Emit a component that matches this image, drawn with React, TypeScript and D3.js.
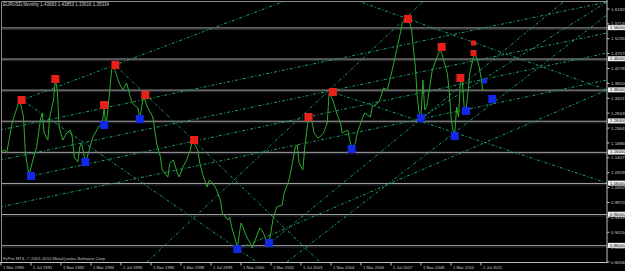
import React from "react";
import * as d3 from "d3";

// month offsets from 1 Mar 1990 and monthly closes
const monthIdx = [0,2,3,5,6,9,10,12,13,14,15,17,19,21,22,23,25,26,28,29,30,31,33,35,37,38,39,41,42,43,45,46,49,52,54,55,56,57,59,60,62,63,65,67,69,70,73,74,75,76,78,81,82,83,85,86,89,90,92,94,95,97,99,101,102,105,106,108,110,111,113,115,117,118,121,122,123,125,126,128,129,131,133,134,137,138,140,142,143,145,147,150,151,153,154,155,157,158,159,161,162,164,166,167,169,170,172,174,175,177,179,181,182,185,186,187,189,190,193,194,197,198,201,202,204,206,207,209,211,213,214,216,218,219,220,221,222,223,224,225,226,227,229,230,232,234,235,238,239,240,241,242,243,244,245,246,247,248,249,250,252,253,254,255,256,257];
const closes = [1.1595,1.1659,1.1563,1.2206,1.2559,1.3106,1.3267,1.2720,1.1563,1.1177,1.0856,1.1338,1.1756,1.2624,1.2849,1.2206,1.1981,1.2720,1.3267,1.3910,1.3589,1.2399,1.1981,1.2206,1.2302,1.2077,1.1434,1.1273,1.1756,1.1884,1.1273,1.1434,1.2077,1.2399,1.2527,1.3010,1.2399,1.2945,1.4231,1.4360,1.4006,1.3813,1.3589,1.3813,1.3363,1.3170,1.3010,1.2656,1.3042,1.3395,1.3042,1.2720,1.2302,1.1884,1.1434,1.1016,1.0791,1.1241,1.1338,1.0920,1.0791,1.1112,1.1338,1.1659,1.1981,1.1659,1.1241,1.0791,1.0470,1.0695,1.0598,1.0373,1.0052,0.9634,0.9409,0.9505,0.9184,0.8766,0.8508,0.9312,0.9184,0.8862,0.8669,0.8508,0.8991,0.9152,0.8991,0.8669,0.8669,0.9409,0.9827,0.9891,1.0277,1.0598,1.0791,1.1112,1.1756,1.1820,1.1241,1.1016,1.1756,1.2720,1.2527,1.2206,1.2045,1.2077,1.2206,1.2527,1.3492,1.3267,1.2849,1.2527,1.2206,1.2302,1.1981,1.1724,1.1884,1.2206,1.2720,1.2849,1.2720,1.3042,1.3170,1.3267,1.3653,1.3589,1.3813,1.4328,1.4874,1.5421,1.5743,1.5839,1.5743,1.5517,1.4874,1.4328,1.3363,1.2849,1.2720,1.3910,1.2945,1.3042,1.3813,1.4231,1.4553,1.4874,1.4778,1.4135,1.3589,1.2720,1.2302,1.2206,1.3042,1.2720,1.3813,1.3910,1.3042,1.2945,1.3492,1.4135,1.4649,1.4714,1.4553,1.4328,1.4006,1.3556];

// marker squares (month offset, price, size)
const redM = [11,29,55,61,77,103,164,177,217,235,245,252,252];
const redP = [1.3267,1.3942,1.3106,1.4392,1.3428,1.1981,1.2720,1.3524,1.5871,1.4971,1.3974,1.4778,1.5099];
const redS = [8,8,8,8,8,8,8,8,8,8,8,6,5];
const blueM = [16,45,55,74,126,143,187,224,242,248,258,262];
const blueP = [1.0823,1.1273,1.2463,1.2656,0.8476,0.8669,1.1692,1.2688,1.2109,1.2913,1.3877,1.3299];
const blueS = [8,8,8,8,8,8,8,8,8,8,5,8];

// trend lines: anchor A (month, price) -> anchor B, extended to the right
const tlM1 = [11.2, 60.8, 11.2, 188.8, 176.5, 143.5, 152.5, 77.9, -0.53, -0.53, 16, -0.53, 126.4, 224];
const tlP1 = [1.3267, 1.4392, 1.3267, 1.6482, 1.3524, 0.8669, 0.8058, 0.8058, 1.2302, 1.1337, 1.0823, 0.9826, 0.8476, 1.2688];
const tlM2 = [60.8, 170.1, 126.4, 323.2, 323.2, 218.1, 218.1, 180.8, 323.2, 323.2, 323.2, 323.2, 323.2, 323.2];
const tlP2 = [1.4392, 0.8058, 0.8476, 1.3588, 1.0598, 1.2366, 1.1112, 1.391, 1.6418, 1.5421, 1.4778, 1.391, 1.3588, 1.6418];

// horizontal levels
const levels = [1.56,1.46,1.36,1.26,1.16,1.06,0.96,0.86];
// price axis
const priceTop = 1.61925;
const priceStep = 0.04785;
const priceTickCount = 18;
const priceTicks = d3.range(priceTickCount).map((i) => priceTop - i * priceStep);
// time axis labels every 16 months
const dateLabels = ["1 Mar 1990","1 Jul 1991","1 Nov 1992","1 Mar 1994","1 Jul 1995","1 Nov 1996","1 Mar 1998","1 Jul 1999","1 Nov 2000","1 Mar 2002","1 Jul 2003","1 Nov 2004","1 Mar 2006","1 Jul 2007","1 Nov 2008","1 Mar 2010","1 Jul 2011"];
const dateMonths = dateLabels.map((_, i) => i * 16);

const title = "EURUSD,Monthly  1.43683 1.43853 1.33616 1.35334";
const copyright = "FxPro MT4, \u00a9 2001-2010 MetaQuotes Software Corp.";

const W = 625, H = 271;
const plotL = 1.5, plotR = 607, plotT = 1.5, plotB = 262.5;
const FONT = "'Liberation Sans', Arial, sans-serif";

export default function App() {
  const x = d3.scaleLinear().domain([0, 256]).range([1, 481]);
  const y = d3.scaleLinear().domain([0.8058, 1.61925]).range([262, 9]);
  const line = d3.line<number>().x((_, i) => x(monthIdx[i])).y((d) => y(d));

  const trend = tlM1.map((m1, i) => {
    const x1 = x(m1), y1 = y(tlP1[i]);
    const x2 = x(tlM2[i]), y2 = y(tlP2[i]);
    const s = (y2 - y1) / (x2 - x1);
    const xe = plotR;
    return { x1, y1, x2: xe, y2: y1 + s * (xe - x1) };
  });

  return (
    <svg width={W} height={H} style={{ position: "absolute", left: 0, top: 0, background: "#000" }} fontFamily={FONT}>
      <defs>
        <clipPath id="plot">
          <rect x={plotL} y={plotT} width={plotR - plotL} height={plotB - plotT} />
        </clipPath>
      </defs>
      <rect width={W} height={H} fill="#000" />
      <g clipPath="url(#plot)">
        {levels.map((v, i) => (
          <g key={i}>
            <line x1={plotL} x2={plotR} y1={y(v) + 0.5} y2={y(v) + 0.5} stroke="#a8a8a8" strokeWidth={1} />
            <line x1={plotL} x2={plotR} y1={y(v) + 2} y2={y(v) + 2} stroke="#2a2a3a" strokeWidth={1} />
          </g>
        ))}
        {trend.map((t, i) => (
          <line key={i} x1={t.x1} y1={t.y1} x2={t.x2} y2={t.y2} stroke="#1f9e6a" strokeWidth={1} strokeDasharray="3,2,1,2" />
        ))}
        <path d={line(closes) || ""} fill="none" stroke="#2eaa2e" strokeWidth={1} />
        {redM.map((m, i) => (
          <rect key={"r" + i} x={x(m) - redS[i] / 2} y={y(redP[i]) - redS[i] / 2} width={redS[i]} height={redS[i]} fill="#e8201c" />
        ))}
        {blueM.map((m, i) => (
          <rect key={"b" + i} x={x(m) - blueS[i] / 2} y={y(blueP[i]) - blueS[i] / 2} width={blueS[i]} height={blueS[i]} fill="#1428e8" />
        ))}
      </g>
      {/* frame */}
      <line x1={plotL} x2={plotL} y1={plotT} y2={plotB} stroke="#8a8a8a" />
      <line x1={plotL} x2={plotR} y1={plotT} y2={plotT} stroke="#8a8a8a" />
      <line x1={0} x2={plotR + 0.5} y1={plotB} y2={plotB} stroke="#c0c0c0" />
      <line x1={plotR} x2={plotR} y1={0} y2={plotB} stroke="#c0c0c0" />
      {/* price axis */}
      {priceTicks.map((v, i) => (
        <g key={i}>
          <line x1={plotR} x2={plotR + 2.5} y1={y(v)} y2={y(v)} stroke="#c0c0c0" />
          <text x={611} y={y(v) + 1.6} fontSize={4.4} fill="#c8c8c8">{v.toFixed(5)}</text>
        </g>
      ))}
      {levels.map((v, i) => (
        <g key={"lv" + i}>
          <rect x={608} y={y(v) - 2.3} width={17} height={5} fill="#f0f0f0" />
          <text x={610} y={y(v) + 1.6} fontSize={4.4} fill="#000">{v.toFixed(5)}</text>
        </g>
      ))}
      {/* time axis */}
      {dateMonths.map((m, i) => (
        <g key={i}>
          <line x1={x(m)} x2={x(m)} y1={plotB} y2={plotB + 3} stroke="#c0c0c0" />
          <text x={x(m) + 2} y={269} fontSize={4.2} fill="#c8c8c8">{dateLabels[i]}</text>
        </g>
      ))}
      <text x={3} y={6} fontSize={4.5} fill="#d0d0d0">{title}</text>
      <text x={3} y={260} fontSize={4.3} fill="#c0c0c0">{copyright}</text>
    </svg>
  );
}
